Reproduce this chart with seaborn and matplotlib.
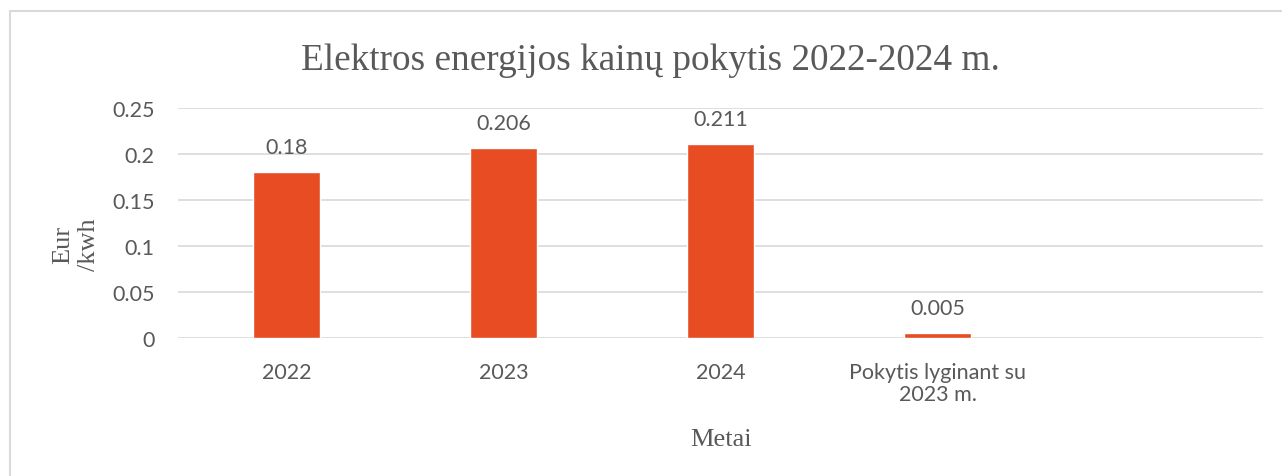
import matplotlib
matplotlib.use("Agg")
import matplotlib.pyplot as plt
from matplotlib.patches import Rectangle
import seaborn as sns

# === Data ===
kategorijos = ["2022", "2023", "2024", "Pokytis lyginant su\n2023 m."]
kainos = [0.18, 0.206, 0.211, 0.005]
y_ticks = [0, 0.05, 0.1, 0.15, 0.2, 0.25]
y_tick_labels = ["0", "0.05", "0.1", "0.15", "0.2", "0.25"]
pavadinimas = "Elektros energijos kain\u0173 pokytis 2022-2024 m."

spalva = "#E84C22"
tekstas = "#595959"
tinklelis = "#D9D9D9"

sns.set_style("white")
plt.rcParams["font.family"] = ["Lato", "DejaVu Sans"]

fig = plt.figure(figsize=(12.82, 4.77), dpi=100)
ax = fig.add_axes([0.1389, 0.2893, 0.8463, 0.4822])

sns.barplot(x=kategorijos, y=kainos, color=spalva, width=0.31,
            saturation=1, ax=ax)
ax.set_xlim(-0.5, 4.5)
ax.set_ylim(0, 0.25)
ax.set_yticks(y_ticks)
ax.set_yticklabels(y_tick_labels)

# grid
ax.yaxis.grid(True, color=tinklelis, linewidth=1.2)
ax.set_axisbelow(True)
for s in ax.spines.values():
    s.set_visible(False)
ax.tick_params(axis="both", length=0, labelsize=15.5, labelcolor=tekstas)
ax.tick_params(axis="y", pad=17)
ax.tick_params(axis="x", pad=17)
for lbl in ax.get_xticklabels():
    lbl.set_multialignment("center")
    lbl.set_linespacing(1.15)

# value labels
ax.bar_label(ax.containers[0], fmt="{:g}", padding=11, fontsize=15.5,
             color=tekstas)

serif = ["Liberation Serif", "DejaVu Serif"]
fig.suptitle(pavadinimas, x=0.507, y=0.872, va="center",
             family=serif, fontsize=26.8, color=tekstas)
ax.set_xlabel("Metai", family=serif, fontsize=19, color=tekstas)
ax.set_ylabel("Eur\n/kwh", family=serif, fontsize=19, color=tekstas,
              multialignment="center")
ax.yaxis.set_label_coords(-0.072, 0.41)
ax.xaxis.set_label_coords(0.5, -0.39)

# chart frame
fig.patches.append(Rectangle((10 / 1282, -0.1), 1.2, 1.1 - 12 / 477,
                             transform=fig.transFigure, fill=False,
                             edgecolor=tinklelis, linewidth=1.5))

fig.savefig("out.png", dpi=100)
